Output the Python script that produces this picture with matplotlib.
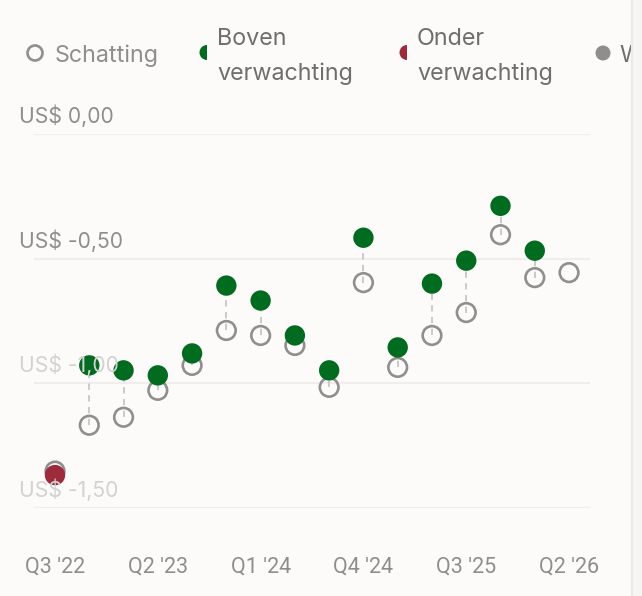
import matplotlib
matplotlib.use("Agg")
import matplotlib.pyplot as plt
import matplotlib.patches as mpatches

plt.rcParams["font.family"] = ["Inter", "DejaVu Sans"]

# kwartalen Q3 '22 .. Q2 '26
quarters = ["Q3 '22", "Q4 '22", "Q1 '23", "Q2 '23", "Q3 '23", "Q4 '23",
            "Q1 '24", "Q2 '24", "Q3 '24", "Q4 '24", "Q1 '25", "Q2 '25",
            "Q3 '25", "Q4 '25", "Q1 '26", "Q2 '26"]
estimate = [-1.352, -1.168, -1.136, -1.028, -0.928, -0.788, -0.808, -0.848,
            -1.016, -0.596, -0.936, -0.808, -0.716, -0.404, -0.576, -0.556]
actual = [-1.368, -0.928, -0.948, -0.968, -0.880, -0.608, -0.668, -0.808,
          -0.948, -0.416, -0.856, -0.600, -0.508, -0.288, -0.468, None]
y_ticks = [0.0, -0.5, -1.0, -1.5]
y_tick_labels = ["US$ 0,00", "US$ -0,50", "US$ -1,00", "US$ -1,50"]
x_tick_idx = [0, 3, 6, 9, 12, 15]

BG = "#fcfbfa"
GREEN = "#016b1f"
RED = "#9e2b3c"
RING = "#8f8f8f"
W, H = 642, 596
LEG_FS = 16.8

fig = plt.figure(figsize=(W / 100, H / 100), dpi=100, facecolor=BG)
ax = fig.add_axes([34 / W, 1 - 508 / H, 556 / W, 374 / H])
ax.set_facecolor("none")
for s in ax.spines.values():
    s.set_visible(False)

x = list(range(len(quarters)))
ax.set_xlim((34 - 55) / 34.27, (590 - 55) / 34.27)
ax.set_ylim(-1.5, 0.0)

for i, yv in enumerate(y_ticks):
    ax.axhline(yv, color="#efeeed", lw=1.5, zorder=0)
    col = "#8e8e8e" if i < 2 else "#d2d2d2"
    ax.annotate(y_tick_labels[i], xy=(19 / W, yv), xycoords=("figure fraction", "data"),
                xytext=(0, 8), textcoords="offset points", ha="left", va="baseline",
                fontsize=15.2, color=col, zorder=5)

# stippellijnen schatting -> werkelijk
for xi, e, a in zip(x, estimate, actual):
    if a is None:
        continue
    ax.plot([xi, xi], [e, a], color="#c6c6c6", lw=1.3, ls=(0, (3.5, 3)),
            zorder=1, clip_on=False)

ax.scatter(x, estimate, s=180, facecolors="none", edgecolors=RING,
           linewidths=1.9, zorder=2, clip_on=False)
ax_x = [xi for xi, a in zip(x, actual) if a is not None]
ax_y = [a for a in actual if a is not None]
cols = [GREEN if a > e else RED for a, e in zip(ax_y, estimate)]
ax.scatter(ax_x, ax_y, s=215, c=cols, linewidths=0, zorder=3, clip_on=False)

ax.set_xticks(x_tick_idx)
ax.set_xticklabels([quarters[i] for i in x_tick_idx], family=["Roboto", "DejaVu Sans"])
ax.tick_params(axis="x", length=0, pad=35, labelsize=15.5, labelcolor="#8e8e8e")
ax.set_yticks([])

# legenda en rand (pixelcoordinaten)
lg = fig.add_axes([0, 0, 1, 1], zorder=10)
lg.set_xlim(0, W)
lg.set_ylim(H, 0)
lg.axis("off")
lg.set_facecolor("none")

lg.add_patch(mpatches.Circle((35, 53), 7.5, fill=False, ec=RING, lw=1.9))
lg.text(55, 62, "Schatting", fontsize=LEG_FS, color="#8e8e8e", va="baseline", ha="left")
lg.add_patch(mpatches.Wedge((207, 52.5), 7.5, 90, 270, color=GREEN, lw=0))
lg.text(217, 45, "Boven", fontsize=LEG_FS, color="#6e6e6e", va="baseline", ha="left")
lg.text(217, 80, "verwachting", fontsize=LEG_FS, color="#6e6e6e", va="baseline", ha="left")
lg.add_patch(mpatches.Wedge((407, 52.5), 7.5, 90, 270, color=RED, lw=0))
lg.text(417, 45, "Onder", fontsize=LEG_FS, color="#6e6e6e", va="baseline", ha="left")
lg.text(417, 80, "verwachting", fontsize=LEG_FS, color="#6e6e6e", va="baseline", ha="left")
lg.add_patch(mpatches.Circle((603, 53), 7.5, color="#8e8e8e", lw=0))
lg.text(619, 62, "W", fontsize=LEG_FS, color="#6e6e6e", va="baseline", ha="left")

lg.add_patch(mpatches.Rectangle((631, 0), 20, H, color="#f6f5f4", lw=0, zorder=20))
lg.plot([631.5, 631.5], [0, H], color="#ebeae9", lw=1.5, zorder=21)

fig.savefig("out.png", dpi=100, facecolor=BG)
